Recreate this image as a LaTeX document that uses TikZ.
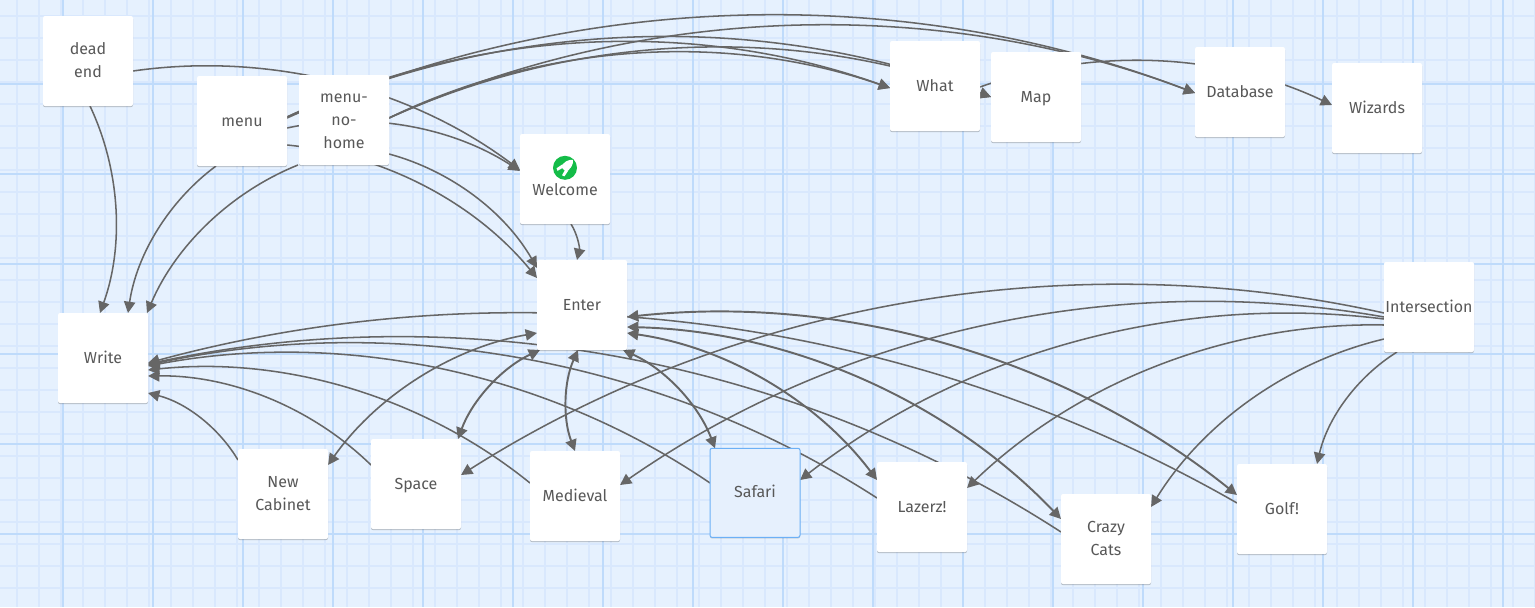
\documentclass[tikz,border=0pt]{standalone}
\usepackage{fontspec}
\setmainfont{Fira Sans}
\usetikzlibrary{arrows.meta,calc,backgrounds,shadows}
\definecolor{gridbg}{HTML}{E6F1FE}
\definecolor{gridminor}{HTML}{D9E8FD}
\definecolor{gridmajor}{HTML}{BFDBFB}
\definecolor{linkgray}{HTML}{666666}
\definecolor{cardtext}{HTML}{585858}
\definecolor{selfill}{HTML}{E6F0FD}
\definecolor{selline}{HTML}{6CB0F6}
\definecolor{icongreen}{HTML}{14BC48}
\newcommand{\cardstrut}{\rule[-4.85pt]{0pt}{17.25pt}}
\tikzset{
  x=0.75pt,y=-0.75pt,
  card/.style={rectangle,rounded corners=1.5pt,fill=white,inner sep=0pt,outer sep=0pt,
    minimum width=67.5pt,minimum height=67.5pt,text width=67.5pt,align=center,text=cardtext,
    font=\fontsize{12pt}{17.25pt}\selectfont,
    execute at begin node=\cardstrut,execute at end node=\cardstrut,
    drop shadow={shadow xshift=0pt,shadow yshift=-0.8pt,opacity=.22,fill=black}},
  selcard/.style={card,fill=selfill,draw=selline,line width=0.75pt,minimum width=66.75pt,minimum height=66.75pt},
  minorline/.style={draw=gridminor,line width=1.5pt},
  majorline/.style={draw=gridmajor,line width=1.5pt},
  conn/.style={draw=linkgray,line width=1.15pt,looseness=.88,-{Triangle[length=8.5pt,width=8.5pt]}},
  twoway/.style={draw=linkgray,line width=1.45pt,looseness=.88,{Triangle[length=8.5pt,width=8.5pt]}-{Triangle[length=8.5pt,width=8.5pt]}},
  bl/.style={bend left=22.5},
  br/.style={bend right=22.5},
}
\begin{document}
\begin{tikzpicture}
\useasboundingbox (0,0) rectangle (1535,607);
% cards
\node[card] (dead) at (88,61) {dead\\end};
\node[card] (menu) at (242,121) {menu};
\node[card] (nohome) at (344,120) {menu-\\no-\\home};
\node[card] (welcome) at (565,179) {\mbox{}\\Welcome};
\node[card] (what) at (935,86) {What};
\node[card] (map) at (1036,97) {Map};
\node[card] (database) at (1240,92) {Database};
\node[card] (wizards) at (1377,108) {Wizards};
\node[card] (enter) at (582,305) {Enter};
\node[card] (write) at (103,358) {Write};
\node[card] (intersection) at (1429,307) {Intersection};
\node[card] (cabinet) at (283,494) {New\\Cabinet};
\node[card] (space) at (416,484) {Space};
\node[card] (medieval) at (575,496) {Medieval};
\node[selcard] (safari) at (755,492.8) {Safari};
\node[card] (lazerz) at (922,507) {Lazerz!};
\node[card] (crazy) at (1106,539) {Crazy\\Cats};
\node[card] (golf) at (1282,509) {Golf!};
% rocket icon of the Welcome card
\fill[icongreen] ($(welcome.center)+(0,-11.2)$) circle[radius=12];
\begin{scope}[shift={($(welcome.center)+(0,-11.2)$)}]
  \fill[white] (8,-8) .. controls (3,-8.5) and (-1.5,-5.5) .. (-4,-1) -- (1,4) .. controls (5.5,1.5) and (8.5,-3) .. cycle;
  \fill[white] (-2.5,-3.5) -- (-8.5,0.5) -- (-7.5,3) -- (-3,0.5) -- cycle;
  \fill[white] (3.5,2.5) -- (-0.5,8.5) -- (-3,7.5) -- (-0.5,3) -- cycle;
\end{scope}
% grid
\begin{scope}[on background layer]
  \fill[gridbg] (0,0) rectangle (1535,607);
  \foreach \k in {0,...,69} {\draw[minorline] ({16.7+22*\k},0) -- ({16.7+22*\k},607);}
  \foreach \k in {0,...,27} {\draw[minorline] (0,{15.7+22*\k}) -- (1535,{15.7+22*\k});}
  \foreach \k in {0,...,16} {\draw[majorline] ({63+90*\k},0) -- ({63+90*\k},607);}
  \foreach \k in {0,...,5} {\draw[majorline] (0,{83.5+90*\k}) -- (1535,{83.5+90*\k});}
\end{scope}
% connectors
\begin{scope}[on background layer]
  \draw[conn] (dead.south -| 90,0) to[bl] (write.north -| 100,0);
  \draw[conn] (menu.south -| 216,0) to[br] (write.north -| 128,0);
  \draw[conn] (nohome.south -| 298,0) to[br] (write.north -| 147,0);
  \draw[conn] (dead.east |- 0,71) to[bl] (welcome.west |- 0,170);
  \draw[conn] (menu.east |- 0,128) to[bl] (welcome.west |- 0,171);
  \draw[conn] (menu.east |- 0,145) to[bl] (enter.west |- 0,278);
  \draw[conn] (nohome.east |- 0,154) to[bl] (enter.west |- 0,268);
  \draw[conn] (menu.east |- 0,118) to[bl] (database.west |- 0,93);
  \draw[conn] (nohome.east |- 0,118) to[bl] (database.west |- 0,93);
  \draw[conn] (menu.east |- 0,117) to[bl] (map.west |- 0,97);
  \draw[conn] (nohome.east |- 0,118) to[bl] (map.west |- 0,97);
  \draw[conn] (menu.east |- 0,117) to[bl] (what.west |- 0,88);
  \draw[conn] (nohome.east |- 0,118) to[bl] (what.west |- 0,88);
  \draw[conn] (what.east |- 0,87) to[bl] (wizards.west |- 0,105);
  \draw[conn] (welcome.south -| 571,0) to[bl] (enter.north -| 577,0);
  \draw[conn] (golf.west |- 0,503) to[br] (write.east |- 0,363);
  \draw[conn] (crazy.west |- 0,532) to[br] (write.east |- 0,364);
  \draw[conn] (lazerz.west |- 0,498) to[br] (write.east |- 0,365);
  \draw[conn] (safari.west |- 0,483) to[br] (write.east |- 0,366);
  \draw[conn] (medieval.west |- 0,483) to[br] (write.east |- 0,370);
  \draw[conn] (space.west |- 0,465) to[br] (write.east |- 0,376);
  \draw[conn] (cabinet.west |- 0,460) to[br] (write.east |- 0,393);
  \draw[twoway] (enter.east |- 0,317) to[bl] (golf.west |- 0,495);
  \draw[twoway] (enter.east |- 0,327) to[bl] (crazy.west |- 0,519);
  \draw[twoway] (enter.east |- 0,333) to[bl] (lazerz.west |- 0,480);
  \draw[twoway] (enter.south -| 623,0) to[bl] (safari.north -| 715,0);
  \draw[twoway] (enter.south -| 578,0) to[br] (medieval.north -| 575,0);
  \draw[twoway] (enter.south -| 540,0) to[br] (space.north -| 458,0);
  \draw[twoway,line width=1.2pt] (enter.west |- 0,333) to[br] (cabinet.east |- 0,465);
  \draw[conn] (intersection.west |- 0,313) to[br] (space.east |- 0,475);
  \draw[conn] (intersection.west |- 0,317) to[br] (medieval.east |- 0,485);
  \draw[conn] (intersection.west |- 0,319) to[br] (safari.east |- 0,480);
  \draw[conn] (intersection.west |- 0,325) to[br] (lazerz.east |- 0,488);
  \draw[conn] (intersection.west |- 0,339) to[br] (crazy.east |- 0,507);
  \draw[conn] (intersection.south -| 1397,0) to[br] (golf.north -| 1317,0);
\end{scope}
\end{tikzpicture}
\end{document}
